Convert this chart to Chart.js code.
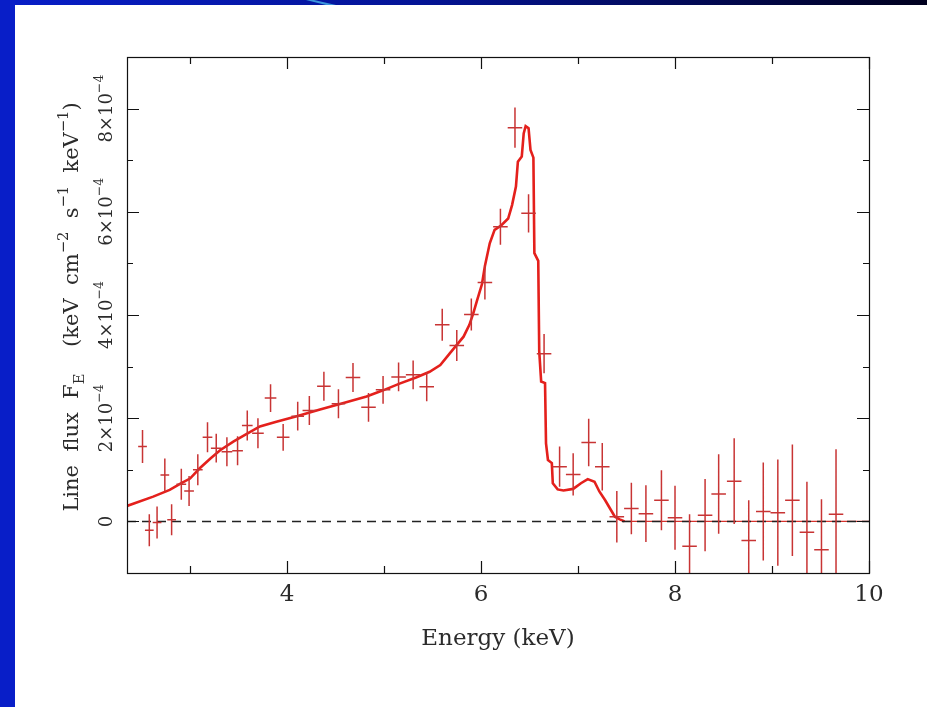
<!DOCTYPE html>
<html>
<head>
<meta charset="utf-8">
<script src="https://cdn.jsdelivr.net/npm/chart.js@4.4.0/dist/chart.umd.min.js"></script>
<style>
  html, body { margin: 0; padding: 0; background: #fff; }
  canvas { display: block; }
</style>
</head>
<body>
<canvas id="spectrum" width="927" height="707"></canvas>
<script>
// binned spectrum: bin centre (keV), half bin width (keV), line flux and 1-sigma error (units of 1e-4)
const energy = [2.51, 2.58, 2.66, 2.74, 2.81, 2.91, 2.99, 3.08, 3.18, 3.27,
  3.38, 3.49, 3.59, 3.70, 3.83, 3.96, 4.11, 4.23, 4.38, 4.53,
  4.68, 4.84, 4.99, 5.15, 5.30, 5.44, 5.60, 5.75, 5.90, 6.04,
  6.20, 6.35, 6.49, 6.65, 6.81, 6.95, 7.11, 7.25, 7.40, 7.55,
  7.70, 7.86, 8.00, 8.15, 8.31, 8.45, 8.61, 8.76, 8.91, 9.06,
  9.21, 9.36, 9.51, 9.66];
const halfWidth = [0.045, 0.045, 0.045, 0.045, 0.045, 0.05, 0.05, 0.05, 0.05, 0.055,
  0.055, 0.055, 0.055, 0.06, 0.06, 0.065, 0.065, 0.07, 0.07, 0.07,
  0.075, 0.075, 0.075, 0.075, 0.075, 0.075, 0.075, 0.075, 0.075, 0.075,
  0.075, 0.075, 0.075, 0.075, 0.075, 0.075, 0.075, 0.075, 0.075, 0.075,
  0.075, 0.075, 0.075, 0.075, 0.075, 0.075, 0.075, 0.075, 0.075, 0.075,
  0.075, 0.075, 0.075, 0.075];
const flux = [1.45, -0.17, -0.02, 0.90, 0.03, 0.72, 0.59, 1.00, 1.63, 1.42,
  1.35, 1.37, 1.86, 1.71, 2.39, 1.63, 2.04, 2.15, 2.62, 2.28,
  2.79, 2.21, 2.55, 2.80, 2.84, 2.61, 3.81, 3.41, 4.01, 4.63,
  5.71, 7.63, 5.97, 3.25, 1.06, 0.91, 1.53, 1.06, 0.09, 0.25,
  0.15, 0.41, 0.07, -0.48, 0.12, 0.53, 0.78, -0.37, 0.19, 0.17,
  0.41, -0.21, -0.55, 0.14];
const fluxErr = [0.32, 0.31, 0.31, 0.32, 0.30, 0.30, 0.29, 0.30, 0.29, 0.28,
  0.28, 0.28, 0.29, 0.29, 0.27, 0.26, 0.28, 0.28, 0.28, 0.28,
  0.28, 0.28, 0.27, 0.28, 0.28, 0.28, 0.31, 0.30, 0.31, 0.33,
  0.35, 0.39, 0.37, 0.38, 0.39, 0.41, 0.46, 0.46, 0.50, 0.50,
  0.55, 0.58, 0.62, 0.62, 0.70, 0.77, 0.83, 0.78, 0.95, 1.03,
  1.08, 0.98, 0.98, 1.26];

// best-fit line profile
const modelEnergy = [2.35, 2.62, 2.79, 2.91, 3.00, 3.10, 3.21, 3.31, 3.45, 3.58,
  3.72, 3.89, 4.10, 4.34, 4.61, 4.82, 4.99, 5.16, 5.33, 5.47,
  5.58, 5.68, 5.75, 5.82, 5.88, 5.92, 5.96, 6.01, 6.04, 6.09,
  6.14, 6.21, 6.28, 6.32, 6.36, 6.38, 6.42, 6.44, 6.46, 6.49,
  6.51, 6.54, 6.55, 6.59, 6.60, 6.62, 6.66, 6.67, 6.69, 6.73,
  6.74, 6.79, 6.85, 6.95, 7.03, 7.10, 7.17, 7.22, 7.28, 7.33,
  7.38, 7.43, 7.48];
const modelFlux = [0.30, 0.48, 0.61, 0.74, 0.83, 1.03, 1.22, 1.38, 1.55, 1.69,
  1.84, 1.93, 2.04, 2.17, 2.31, 2.42, 2.54, 2.67, 2.79, 2.90,
  3.03, 3.26, 3.42, 3.58, 3.81, 4.03, 4.29, 4.60, 4.95, 5.39,
  5.65, 5.74, 5.87, 6.13, 6.49, 6.97, 7.07, 7.52, 7.66, 7.62,
  7.20, 7.05, 5.20, 5.05, 3.30, 2.71, 2.68, 1.51, 1.19, 1.13,
  0.74, 0.62, 0.60, 0.63, 0.74, 0.82, 0.77, 0.58, 0.41, 0.25,
  0.09, 0.04, 0.00];

const xRange = [2.35, 10];
const yRange = [-1, 9];
const xTicks = [4, 6, 8, 10];
const xMinorTicks = [3, 5, 7, 9];
const yTicks = [0, 2, 4, 6, 8];
const yMinorTicks = [1, 3, 5, 7];

const FONT = '"DejaVu Serif", "Liberation Serif", serif';
const INK = '#2b2b2b';

function font(size) { return size.toFixed(1) + 'px ' + FONT; }

// text with super/subscripts, centred on (cx, cy), optionally turned to read upwards
function drawRich(ctx, parts, size, cx, cy, vertical) {
  ctx.save();
  ctx.translate(cx, cy);
  if (vertical) ctx.rotate(-Math.PI / 2);
  ctx.textBaseline = 'alphabetic';
  ctx.textAlign = 'left';
  let total = 0;
  for (const p of parts) {
    ctx.font = font(p.s ? size * 0.7 : size);
    total += ctx.measureText(p.t).width;
  }
  let x = -total / 2;
  for (const p of parts) {
    const s = p.s ? size * 0.7 : size;
    ctx.font = font(s);
    const dy = p.s === 'up' ? -size * 0.5 : p.s === 'down' ? size * 0.3 : 0;
    ctx.fillText(p.t, x, dy);
    x += ctx.measureText(p.t).width;
  }
  ctx.restore();
}

const framePlugin = {
  id: 'framePlugin',
  beforeDraw(chart) {
    const ctx = chart.ctx;
    const w = chart.width;
    ctx.save();
    ctx.fillStyle = '#ffffff';
    ctx.fillRect(0, 0, w, chart.height);
    const g = ctx.createLinearGradient(0, 0, w, 0);
    g.addColorStop(0, 'rgb(8,30,200)');
    g.addColorStop(0.45, 'rgb(4,20,150)');
    g.addColorStop(1, 'rgb(0,0,30)');
    ctx.fillStyle = g;
    ctx.fillRect(0, 0, w, 5);
    ctx.fillStyle = 'rgb(8,30,200)';
    ctx.fillRect(0, 0, 15, chart.height);
    ctx.fillStyle = 'rgb(60,150,220)';
    ctx.beginPath();
    ctx.moveTo(306, 0); ctx.lineTo(314, 0); ctx.lineTo(336, 5); ctx.lineTo(326, 5);
    ctx.closePath();
    ctx.fill();
    ctx.restore();
  },
  afterDatasetsDraw(chart) {
    const ctx = chart.ctx;
    const xs = chart.scales.x, ys = chart.scales.y;
    const a = chart.chartArea;

    // error crosses
    ctx.save();
    ctx.beginPath();
    ctx.rect(a.left, a.top, a.right - a.left, a.bottom - a.top);
    ctx.clip();
    ctx.strokeStyle = 'rgb(200,52,52)';
    ctx.lineWidth = 1.5;
    ctx.beginPath();
    energy.forEach((e, i) => {
      const px = xs.getPixelForValue(e), py = ys.getPixelForValue(flux[i]);
      ctx.moveTo(xs.getPixelForValue(e - halfWidth[i]), py);
      ctx.lineTo(xs.getPixelForValue(e + halfWidth[i]), py);
      ctx.moveTo(px, ys.getPixelForValue(flux[i] - fluxErr[i]));
      ctx.lineTo(px, ys.getPixelForValue(flux[i] + fluxErr[i]));
    });
    ctx.stroke();
    ctx.restore();

    // box with inward ticks
    ctx.save();
    ctx.strokeStyle = '#111';
    ctx.lineWidth = 1.2;
    ctx.strokeRect(a.left + 0.5, a.top + 0.5, a.right - a.left, a.bottom - a.top);
    ctx.beginPath();
    const tickX = (v, len) => {
      const p = Math.round(xs.getPixelForValue(v)) + 0.5;
      ctx.moveTo(p, a.bottom); ctx.lineTo(p, a.bottom - len);
      ctx.moveTo(p, a.top); ctx.lineTo(p, a.top + len);
    };
    const tickY = (v, len) => {
      const p = Math.round(ys.getPixelForValue(v)) + 0.5;
      ctx.moveTo(a.left, p); ctx.lineTo(a.left + len, p);
      ctx.moveTo(a.right, p); ctx.lineTo(a.right - len, p);
    };
    xTicks.forEach(v => tickX(v, 12));
    xMinorTicks.forEach(v => tickX(v, 7));
    yTicks.forEach(v => tickY(v, 12));
    yMinorTicks.forEach(v => tickY(v, 6));
    ctx.stroke();

    // labels
    ctx.fillStyle = INK;
    ctx.font = font(23);
    ctx.textAlign = 'center';
    ctx.textBaseline = 'alphabetic';
    xTicks.forEach(v => ctx.fillText(String(v), xs.getPixelForValue(v), a.bottom + 28));
    ctx.fillText('Energy (keV)', (a.left + a.right) / 2, a.bottom + 72);

    yTicks.forEach(v => {
      const parts = v === 0 ? [{ t: '0' }] : [{ t: v + '×10' }, { t: '−4', s: 'up' }];
      drawRich(ctx, parts, 18, a.left - 15, ys.getPixelForValue(v), true);
    });

    drawRich(ctx, [
      { t: 'Line  flux  F' }, { t: 'E', s: 'down' },
      { t: '    (keV  cm' }, { t: '−2', s: 'up' },
      { t: '  s' }, { t: '−1', s: 'up' },
      { t: '  keV' }, { t: '−1', s: 'up' }, { t: ')' }
    ], 21, a.left - 49, (a.top + a.bottom) / 2 - 8, true);
    ctx.restore();
  }
};

new Chart(document.getElementById('spectrum'), {
  type: 'scatter',
  data: {
    datasets: [
      {
        label: 'zero',
        data: [{ x: xRange[0], y: 0 }, { x: xRange[1], y: 0 }],
        showLine: true,
        borderColor: '#222',
        borderWidth: 1.5,
        borderDash: [9, 6],
        pointRadius: 0
      },
      {
        label: 'model tail',
        data: [{ x: modelEnergy[modelEnergy.length - 1], y: 0 }, { x: xRange[1], y: 0 }],
        showLine: true,
        borderColor: 'rgb(215,50,45)',
        borderWidth: 1.2,
        pointRadius: 0
      },
      {
        label: 'model',
        data: modelEnergy.map((x, i) => ({ x: x, y: modelFlux[i] })),
        showLine: true,
        borderColor: 'rgb(228,32,28)',
        borderWidth: 2.6,
        tension: 0,
        pointRadius: 0
      },
      {
        label: 'data',
        data: energy.map((x, i) => ({ x: x, y: flux[i] })),
        pointRadius: 0
      }
    ]
  },
  options: {
    responsive: false,
    animation: false,
    events: [],
    layout: { padding: { left: 127, top: 57, right: 58, bottom: 134 } },
    plugins: { legend: { display: false }, tooltip: { enabled: false } },
    scales: {
      x: { type: 'linear', min: xRange[0], max: xRange[1], display: false },
      y: { type: 'linear', min: yRange[0], max: yRange[1], display: false }
    }
  },
  plugins: [framePlugin]
});
</script>
</body>
</html>
